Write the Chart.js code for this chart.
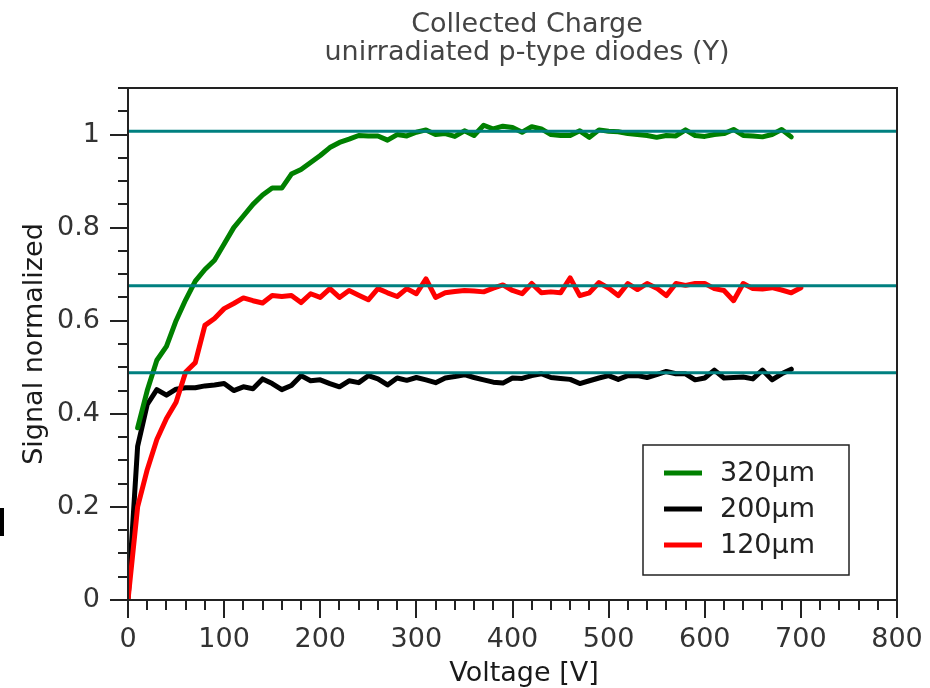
<!DOCTYPE html>
<html>
<head>
<meta charset="utf-8">
<title>Collected Charge</title>
<script src="https://cdn.jsdelivr.net/npm/chart.js@4.4.1/dist/chart.umd.min.js"></script>
<style>
    html, body { margin: 0; padding: 0; background: #ffffff; }
    #wrap { width: 930px; height: 688px; position: relative; }
</style>
</head>
<body>
<div id="wrap"><canvas id="chargeChart" width="930" height="688"></canvas></div>
<script>
// --------------------------------------------------------------------------
// Data (voltage in V, signal normalised)
// --------------------------------------------------------------------------
const voltsGreen = [10, 20, 30, 40, 50, 60, 70, 80, 90, 100, 110, 120, 130, 140, 150, 160, 170, 180, 190, 200,
    210, 220, 230, 240, 250, 260, 270, 280, 290, 300, 310, 320, 330, 340, 350, 360, 370, 380, 390, 400,
    410, 420, 430, 440, 450, 460, 470, 480, 490, 500, 510, 520, 530, 540, 550, 560, 570, 580, 590, 600,
    610, 620, 630, 640, 650, 660, 670, 680, 690];
const signal320 = [0.37, 0.45, 0.515, 0.545, 0.60, 0.645, 0.685, 0.71, 0.73, 0.765, 0.80, 0.825, 0.85, 0.87, 0.885, 0.885, 0.915, 0.925, 0.94, 0.955,
    0.972, 0.983, 0.99, 0.998, 0.997, 0.997, 0.988, 1.0, 0.997, 1.005, 1.01, 1.0, 1.002, 0.996, 1.008, 0.998, 1.02, 1.012, 1.018, 1.015,
    1.005, 1.017, 1.012, 1.0, 0.998, 0.998, 1.008, 0.994, 1.01, 1.007, 1.006, 1.002, 1.0, 0.998, 0.994, 0.998, 0.997, 1.01, 0.998, 0.996,
    1.0, 1.002, 1.011, 0.998, 0.997, 0.995, 1.0, 1.011, 0.995];

const voltsBlack = [0, 10, 20, 30, 40, 50, 60, 70, 80, 90, 100, 110, 120, 130, 140, 150, 160, 170, 180, 190, 200,
    210, 220, 230, 240, 250, 260, 270, 280, 290, 300, 310, 320, 330, 340, 350, 360, 370, 380, 390, 400,
    410, 420, 430, 440, 450, 460, 470, 480, 490, 500, 510, 520, 530, 540, 550, 560, 570, 580, 590, 600,
    610, 620, 630, 640, 650, 660, 670, 680, 690];
const signal200 = [0, 0.33, 0.42, 0.452, 0.44, 0.453, 0.456, 0.456, 0.46, 0.462, 0.465, 0.45, 0.458, 0.454, 0.475, 0.465, 0.452, 0.461, 0.482, 0.471, 0.473,
    0.465, 0.458, 0.471, 0.467, 0.482, 0.475, 0.462, 0.477, 0.472, 0.478, 0.473, 0.467, 0.477, 0.48, 0.484, 0.478, 0.473, 0.468, 0.466, 0.477,
    0.476, 0.482, 0.486, 0.478, 0.476, 0.474, 0.465, 0.471, 0.477, 0.482, 0.474, 0.482, 0.482, 0.478, 0.484, 0.491, 0.486, 0.486, 0.473, 0.477,
    0.494, 0.477, 0.478, 0.479, 0.475, 0.494, 0.473, 0.486, 0.496];

const voltsRed = [0, 10, 20, 30, 40, 50, 60, 70, 80, 90, 100, 110, 120, 130, 140, 150, 160, 170, 180, 190, 200,
    210, 220, 230, 240, 250, 260, 270, 280, 290, 300, 310, 320, 330, 340, 350, 360, 370, 380, 390, 400,
    410, 420, 430, 440, 450, 460, 470, 480, 490, 500, 510, 520, 530, 540, 550, 560, 570, 580, 590, 600,
    610, 620, 630, 640, 650, 660, 670, 680, 690, 700];
const signal120 = [0, 0.2, 0.28, 0.345, 0.39, 0.425, 0.49, 0.51, 0.59, 0.605, 0.626, 0.637, 0.649, 0.643, 0.638, 0.654, 0.652, 0.654, 0.639, 0.658, 0.65,
    0.669, 0.65, 0.665, 0.655, 0.645, 0.669, 0.66, 0.652, 0.669, 0.658, 0.69, 0.65, 0.66, 0.663, 0.665, 0.664, 0.662, 0.67, 0.677, 0.665,
    0.658, 0.68, 0.66, 0.662, 0.66, 0.692, 0.654, 0.66, 0.682, 0.67, 0.654, 0.68, 0.667, 0.68, 0.67, 0.654, 0.68, 0.676, 0.68, 0.68,
    0.669, 0.665, 0.643, 0.68, 0.669, 0.668, 0.671, 0.666, 0.66, 0.671];

// saturation levels (horizontal reference lines)
const refLevels = [1.007, 0.675, 0.488];
const refRange = [0, 800];

const seriesLabels = ['320µm', '200µm', '120µm'];
const seriesColors = ['#008000', '#000000', '#ff0000'];

const xTickValues = [0, 100, 200, 300, 400, 500, 600, 700, 800];
const yTickValues = [0, 0.2, 0.4, 0.6, 0.8, 1];

const FONT = "'DejaVu Sans', sans-serif";

function toPoints(xs, ys) {
    return xs.map((x, i) => ({ x: x, y: ys[i] }));
}

// --------------------------------------------------------------------------
// Frame, minor/major ticks, legend and titles
// --------------------------------------------------------------------------
const decorPlugin = {
    id: 'decor',
    afterDraw(chart) {
        const ctx = chart.ctx;
        const area = chart.chartArea;
        const xs = chart.scales.x;
        const ys = chart.scales.y;

        ctx.save();
        ctx.strokeStyle = '#222';
        ctx.lineWidth = 2;
        ctx.strokeRect(area.left, area.top, area.right - area.left, area.bottom - area.top);

        // x ticks every 20 V, major every 100 V
        ctx.beginPath();
        for (let v = 0; v <= 800; v += 20) {
            const px = Math.round(xs.getPixelForValue(v));
            const len = (v % 100 === 0) ? 18 : 10;
            ctx.moveTo(px, area.bottom);
            ctx.lineTo(px, area.bottom + len);
        }
        // y ticks every 0.05, major every 0.2
        for (let k = 0; k <= 22; k++) {
            const py = Math.round(ys.getPixelForValue(k * 0.05));
            const len = (k % 4 === 0) ? 18 : 10;
            ctx.moveTo(area.left, py);
            ctx.lineTo(area.left - len, py);
        }
        ctx.stroke();

        // legend box
        const lx = 643, ly = 445, lw = 206, lh = 130;
        ctx.fillStyle = '#fff';
        ctx.fillRect(lx, ly, lw, lh);
        ctx.lineWidth = 1.5;
        ctx.strokeStyle = '#222';
        ctx.strokeRect(lx, ly, lw, lh);
        ctx.font = '27px ' + FONT;
        ctx.textBaseline = 'middle';
        ctx.textAlign = 'left';
        const rows = [473, 509, 545];
        chart.data.datasets.filter(d => d.inLegend).forEach((d, i) => {
            ctx.strokeStyle = d.borderColor;
            ctx.lineWidth = 5;
            ctx.beginPath();
            ctx.moveTo(664, rows[i]);
            ctx.lineTo(702, rows[i]);
            ctx.stroke();
            ctx.fillStyle = '#222';
            ctx.fillText(d.label, 720, rows[i] + 1);
        });

        // titles
        ctx.fillStyle = '#444';
        ctx.textAlign = 'center';
        ctx.textBaseline = 'alphabetic';
        ctx.fillText('Collected Charge', 527, 32);
        ctx.fillText('unirradiated p-type diodes (Y)', 527, 60);
        ctx.fillStyle = '#1a1a1a';
        ctx.fillText('Voltage [V]', 524, 681);

        // clipped mark at the left edge of the original figure
        ctx.fillStyle = '#000';
        ctx.fillRect(0, 508, 4, 28);
        ctx.restore();
    }
};

const datasets = [
    ...refLevels.map(level => ({
        label: 'level',
        data: toPoints(refRange, [level, level]),
        borderColor: '#008080',
        borderWidth: 3,
        order: 0,
        inLegend: false
    })),
    { label: seriesLabels[2], data: toPoints(voltsRed, signal120), borderColor: seriesColors[2], borderWidth: 5, order: 1, inLegend: false },
    { label: seriesLabels[0], data: toPoints(voltsGreen, signal320), borderColor: seriesColors[0], borderWidth: 5, order: 2, inLegend: false },
    { label: seriesLabels[1], data: toPoints(voltsBlack, signal200), borderColor: seriesColors[1], borderWidth: 5, order: 3, inLegend: false }
];
// legend order follows the reference: 320, 200, 120
const legendSets = seriesLabels.map(l => {
    const d = datasets.find(s => s.label === l);
    return { label: d.label, borderColor: d.borderColor, inLegend: true, data: [], borderWidth: 0, order: 9, showLine: false };
});

new Chart(document.getElementById('chargeChart').getContext('2d'), {
    type: 'line',
    data: { datasets: datasets.concat(legendSets) },
    options: {
        responsive: false,
        animation: false,
        layout: { padding: { top: 88, right: 33, left: 0, bottom: 0 } },
        elements: {
            point: { radius: 0 },
            line: { tension: 0, borderJoinStyle: 'round', borderCapStyle: 'round', fill: false }
        },
        scales: {
            x: {
                type: 'linear',
                min: 0,
                max: 800,
                grid: { display: false, drawTicks: false },
                border: { display: false },
                afterFit: scale => {
                    scale.height = 88;
                    scale.paddingLeft = 0;
                    scale.paddingRight = 0;
                },
                afterBuildTicks: scale => { scale.ticks = xTickValues.map(v => ({ value: v })); },
                ticks: {
                    padding: 24,
                    color: '#333',
                    font: { family: FONT, size: 27 },
                    maxRotation: 0,
                    autoSkip: false
                }
            },
            y: {
                type: 'linear',
                min: 0,
                max: 1.1,
                grid: { display: false, drawTicks: false },
                border: { display: false },
                afterFit: scale => {
                    scale.width = 128;
                    scale.paddingTop = 0;
                    scale.paddingBottom = 0;
                },
                afterBuildTicks: scale => { scale.ticks = yTickValues.map(v => ({ value: v })); },
                ticks: {
                    padding: 28,
                    color: '#333',
                    font: { family: FONT, size: 27 },
                    callback: v => String(Math.round(v * 10) / 10)
                },
                title: {
                    display: true,
                    text: 'Signal normalized',
                    color: '#1a1a1a',
                    font: { family: FONT, size: 27 },
                    padding: { top: 19, bottom: 0 }
                }
            }
        },
        plugins: {
            legend: { display: false },
            tooltip: { enabled: false }
        }
    },
    plugins: [decorPlugin]
});
</script>
</body>
</html>
